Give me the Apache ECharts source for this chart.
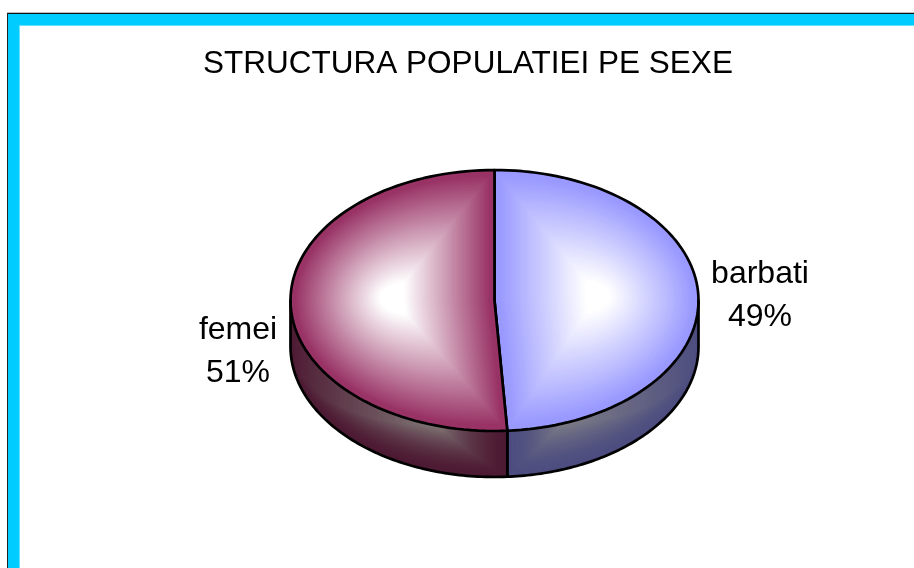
<!DOCTYPE html>
<html><head><meta charset="utf-8">
<style>html,body{margin:0;padding:0;background:#fff;overflow:hidden}#c{width:914px;height:568px}</style>
<script src="https://cdn.jsdelivr.net/npm/echarts@6/dist/echarts.min.js"></script>
</head><body><div id="c"></div>
<script>
const titleText = 'STRUCTURA POPULATIEI PE SEXE';
const categories = ['barbati', 'femei'];
const shares = [49, 51];
const rimColors = ['#9999FF', '#993366'];
const wallDarkColors = ['#4D4D80', '#4D1A33'];
const wallLightColors = ['#7C7C86', '#7E7474'];

const CX = 494.5, CY = 300.5, RX = 204, RY = 130.5, DEPTH = 46;
const FOCI = [[598, 296], [392, 298]];
const WALL_FOCUS_X = [562, 437];
const LABEL_POS = [[760, 296], [238, 352]];
const total = shares.reduce((a, b) => a + b, 0);

function hex(c){return [1,3,5].map(i=>parseInt(c.substr(i,2),16));}
function mix(a,b,t){const A=hex(a),B=hex(b);return 'rgb('+A.map((v,i)=>Math.round(v+(B[i]-v)*t)).join(',')+')';}
function pt(a,dy){return [CX+RX*Math.sin(a), CY-RY*Math.cos(a)+(dy||0)];}
function xToAngle(x){return Math.PI-Math.asin(Math.max(-1,Math.min(1,(x-CX)/RX)));}

function renderItem(params){
  const i = params.dataIndex;
  let before = 0; for(let k=0;k<i;k++) before += shares[k];
  const a0 = before/total*2*Math.PI, a1 = (before+shares[i])/total*2*Math.PI;
  const children = [];

  const outline = [];
  const nArc = 90;
  for(let k=0;k<=nArc;k++) outline.push(pt(a0+(a1-a0)*k/nArc));
  const face = outline.concat([[CX,CY]]);

  // visible wall, painted as nested bands from dark rim to light centre
  const w0 = Math.max(a0, Math.PI/2), w1 = Math.min(a1, 3*Math.PI/2);
  const xf = WALL_FOCUS_X[i], af = xToAngle(xf);
  const wallSteps = 40;
  for(let s=0;s<wallSteps;s++){
    const k = 1-s/wallSteps;
    const b0 = af+(w0-af)*k, b1 = af+(w1-af)*k, d = DEPTH*k;
    const topArc=[],botArc=[];
    for(let n=0;n<=40;n++){
      const b=b0+(b1-b0)*n/40;
      topArc.push(pt(b,0)); botArc.unshift(pt(b,d));
    }
    children.push({type:'polygon',shape:{points:topArc.concat(botArc)},
      style:{fill:mix(wallDarkColors[i],wallLightColors[i],Math.pow(s/(wallSteps-1),1.7))}});
  }

  // top face: nested copies of the slice shrinking to the white focus
  const steps = 80, f = FOCI[i];
  for(let s=0;s<steps;s++){
    const k = 1-s/steps;
    const t = Math.max(0,Math.min(1,(s/steps-0.04)/0.84));
    children.push({type:'polygon',
      shape:{points:face.map(p=>[f[0]+(p[0]-f[0])*k, f[1]+(p[1]-f[1])*k])},
      style:{fill:mix(rimColors[i],'#FFFFFF',t)}});
  }

  const wallBottom=[];
  for(let k=0;k<=nArc;k++){const b=w0+(w1-w0)*k/nArc;wallBottom.push(pt(b,DEPTH));}
  const ln={stroke:'#000',lineWidth:2.7,fill:null,lineJoin:'round',lineCap:'round'};
  children.push({type:'polyline',shape:{points:[pt(w0)].concat(wallBottom,[pt(w1)])},style:ln});
  children.push({type:'polyline',shape:{points:face.concat([outline[0]])},style:ln});

  children.push({type:'text',style:{x:LABEL_POS[i][0],y:LABEL_POS[i][1],
    text:categories[i]+'\n'+shares[i]+'%',
    font:'32px "Liberation Sans"',lineHeight:43,fill:'#000',align:'center',verticalAlign:'middle'}});
  return {type:'group',children};
}

const chart = echarts.init(document.getElementById('c'),null,{renderer:'canvas'});
chart.setOption({
  animation:false,
  backgroundColor:'#fff',
  title:{text:titleText,left:463,top:43,textAlign:'center',
    textStyle:{color:'#000',fontFamily:'Liberation Sans',fontSize:31.5,fontWeight:'normal'}},
  graphic:[
    {type:'rect',shape:{x:7,y:12,width:907,height:1},style:{fill:'#BDBDBD'},silent:true},
    {type:'rect',shape:{x:7,y:13,width:907,height:1},style:{fill:'#111'},silent:true},
    {type:'rect',shape:{x:7,y:13,width:1,height:555},style:{fill:'#222'},silent:true},
    {type:'rect',shape:{x:8,y:14,width:906,height:11},style:{fill:'#00CCFF'},silent:true},
    {type:'rect',shape:{x:8,y:14,width:11,height:554},style:{fill:'#00CCFF'},silent:true},
    {type:'rect',shape:{x:19,y:25,width:895,height:1},style:{fill:'#66E0FF'},silent:true},
    {type:'rect',shape:{x:19,y:25,width:1,height:543},style:{fill:'#66E0FF'},silent:true}
  ],
  series:[{type:'custom',coordinateSystem:'none',renderItem,
    data:categories.map((c,i)=>({name:c,value:shares[i]}))}]
});
</script></body></html>
